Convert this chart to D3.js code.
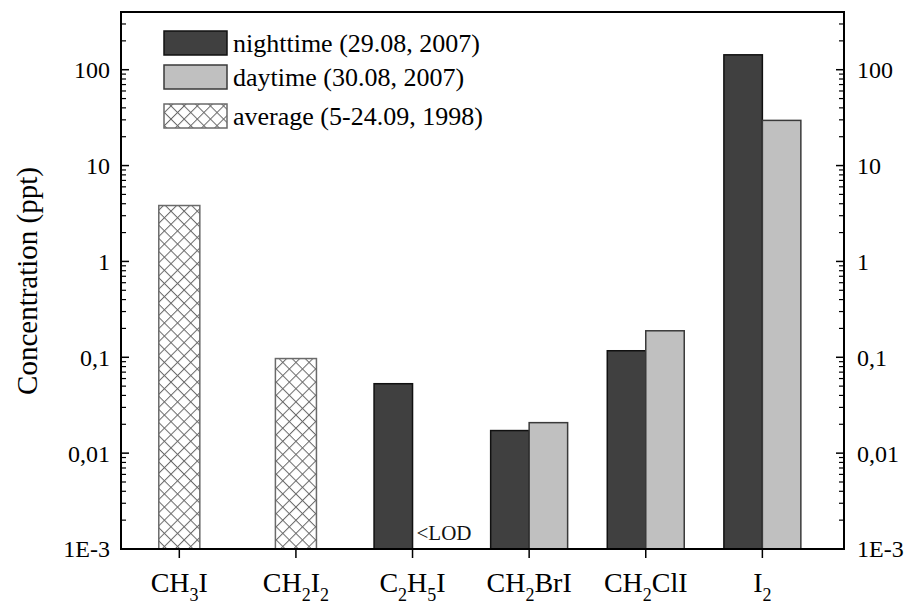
<!DOCTYPE html>
<html>
<head>
<meta charset="utf-8">
<script src="https://cdn.jsdelivr.net/npm/d3@7"></script>
<style>
  html, body { margin: 0; padding: 0; background: #fff; }
  svg { display: block; }
</style>
</head>
<body>
<svg id="chart" width="909" height="604"></svg>
<script>
// Compound names (digits render as subscripts)
const categories = ["CH3I", "CH2I2", "C2H5I", "CH2BrI", "CH2ClI", "I2"];
// Concentrations in ppt; null = no bar
const nighttime = [null, null, 0.053, 0.0172, 0.117, 143];
const daytime   = [null, null, null, 0.0208, 0.189, 29.6];
const average   = [3.83, 0.097, null, null, null, null];
const seriesLabels = ["nighttime (29.08, 2007)", "daytime (30.08, 2007)", "average (5-24.09, 1998)"];
const yTickValues = [1e-3, 0.01, 0.1, 1, 10, 100];
const yTickLabels = ["1E-3", "0,01", "0,1", "1", "10", "100"];
const lodNote = "<LOD";
const yTitle = "Concentration (ppt)";

const FONT = "Liberation Serif, DejaVu Serif, serif";
const svg = d3.select("#chart").attr("font-family", FONT);
const plotL = 121, plotR = 844, plotT = 12, plotB = 549;

const x = d3.scaleLinear().domain([0.5, 6.7]).range([plotL, plotR]);
const y = d3.scaleLog().domain([1e-3, 400]).range([plotB, plotT]);

// crosshatch pattern for the long-term average bars
const defs = svg.append("defs");
const P = 9.3;
const pat = defs.append("pattern")
  .attr("id", "hatch").attr("patternUnits", "userSpaceOnUse")
  .attr("width", P).attr("height", P)
  .attr("patternTransform", "rotate(45)");
pat.append("rect").attr("width", P).attr("height", P).attr("fill", "#fff");
pat.append("line").attr("x1", 0.5).attr("y1", 0).attr("x2", 0.5).attr("y2", P)
  .attr("stroke", "#6a6a6a").attr("stroke-width", 1);
pat.append("line").attr("x1", 0).attr("y1", 0.5).attr("x2", P).attr("y2", 0.5)
  .attr("stroke", "#6a6a6a").attr("stroke-width", 1);

const solidW = 0.33, hatchW = 0.352;
const bars = svg.append("g");

function drawBars(values, offset, w, fill, stroke) {
  values.forEach((v, i) => {
    if (v == null) return;
    const c = i + 1;
    const x0 = x(c + offset), x1 = x(c + offset + w);
    bars.append("rect")
      .attr("x", x0).attr("y", y(v))
      .attr("width", x1 - x0).attr("height", y(1e-3) - y(v))
      .attr("fill", fill).attr("stroke", stroke).attr("stroke-width", 1.5);
  });
}
drawBars(nighttime, -solidW, solidW, "#404040", "#111");
drawBars(daytime, 0, solidW, "#c0c0c0", "#3a3a3a");
drawBars(average, -hatchW / 2, hatchW, "url(#hatch)", "#6a6a6a");

// <LOD note beside the missing daytime bar of C2H5I
svg.append("text")
  .attr("x", x(3) + 4).attr("y", plotB - 9)
  .attr("font-size", 21).attr("fill", "#111")
  .text(lodNote);

// Log axes: ticks point into the plot on both sides
const minorTicks = [];
for (let e = -3; e < 3; e++) for (let m = 2; m <= 9; m++) {
  const v = m * Math.pow(10, e);
  if (v <= 400) minorTicks.push(v);
}
const axG = svg.append("g").attr("stroke", "#000");
[plotL, plotR].forEach(ax => {
  const dir = ax === plotL ? 1 : -1;
  yTickValues.forEach(v => {
    axG.append("line").attr("x1", ax).attr("x2", ax + dir * 8)
      .attr("y1", y(v)).attr("y2", y(v)).attr("stroke-width", 1.5);
  });
  minorTicks.forEach(v => {
    axG.append("line").attr("x1", ax).attr("x2", ax + dir * 5)
      .attr("y1", y(v)).attr("y2", y(v)).attr("stroke-width", 1.2);
  });
});

// category ticks below the x axis
categories.forEach((c, i) => {
  axG.append("line").attr("x1", x(i + 1)).attr("x2", x(i + 1))
    .attr("y1", plotB).attr("y2", plotB + 9).attr("stroke-width", 1.5);
});

// frame
svg.append("rect").attr("x", plotL).attr("y", plotT)
  .attr("width", plotR - plotL).attr("height", plotB - plotT)
  .attr("fill", "none").attr("stroke", "#000").attr("stroke-width", 2);

// tick labels on both sides
yTickValues.forEach((v, i) => {
  svg.append("text").attr("x", plotL - 11).attr("y", y(v)).attr("dy", "0.35em")
    .attr("text-anchor", "end").attr("font-size", 24).text(yTickLabels[i]);
  svg.append("text").attr("x", plotR + 13).attr("y", y(v)).attr("dy", "0.35em")
    .attr("text-anchor", "start").attr("font-size", 24).text(yTickLabels[i]);
});

// category labels with subscripted digits
categories.forEach((c, i) => {
  const t = svg.append("text").attr("x", x(i + 1)).attr("y", 592)
    .attr("text-anchor", "middle").attr("font-size", 28);
  const parts = c.match(/\d+|\D+/g);
  let shifted = false;
  parts.forEach(p => {
    if (/\d/.test(p)) {
      t.append("tspan").attr("font-size", 18).attr("dy", shifted ? 0 : 9).text(p);
      shifted = true;
    } else {
      t.append("tspan").attr("dy", shifted ? -9 : 0).text(p);
      shifted = false;
    }
  });
});

// y title
svg.append("text")
  .attr("transform", "translate(37, 281) rotate(-90)")
  .attr("text-anchor", "middle").attr("font-size", 29).text(yTitle);

// legend
const legFills = ["#404040", "#c0c0c0", "url(#hatch)"];
const legStrokes = ["#111", "#3a3a3a", "#6a6a6a"];
const legY = [31, 65, 104];
seriesLabels.forEach((s, i) => {
  svg.append("rect").attr("x", 164).attr("y", legY[i]).attr("width", 63).attr("height", 24)
    .attr("fill", legFills[i]).attr("stroke", legStrokes[i]).attr("stroke-width", 1.5);
  svg.append("text").attr("x", 233).attr("y", legY[i] + 12).attr("dy", "0.35em")
    .attr("font-size", 26).text(s);
});
</script>
</body>
</html>
